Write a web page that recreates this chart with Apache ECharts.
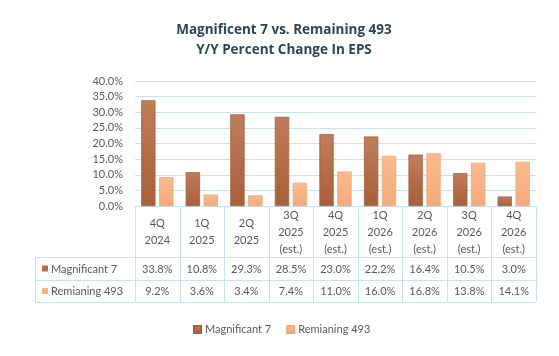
<!DOCTYPE html>
<html>
<head>
<meta charset="utf-8">
<script src="https://cdn.jsdelivr.net/npm/echarts@6/dist/echarts.min.js"></script>
<style>html,body{margin:0;padding:0;background:#fff}#c{width:559px;height:356px}</style>
</head>
<body>
<div id="c"></div>
<script>
var categories = ['4Q\n2024','1Q\n2025','2Q\n2025','3Q\n2025\n(est.)','4Q\n2025\n(est.)','1Q\n2026\n(est.)','2Q\n2026\n(est.)','3Q\n2026\n(est.)','4Q\n2026\n(est.)'];
var mag7 = [33.8, 10.8, 29.3, 28.5, 23.0, 22.2, 16.4, 10.5, 3.0];
var rem493 = [9.2, 3.6, 3.4, 7.4, 11.0, 16.0, 16.8, 13.8, 14.1];
var seriesNames = ['Magnificant 7', 'Remianing 493'];
var yTicks = [0, 5, 10, 15, 20, 25, 30, 35, 40];

var FONT = 'Lato, "Open Sans", sans-serif';
var TXT = '#595959';
var LINE = '#c5e3f0';
var C1 = '#b36a45', C2 = '#f8b283';

var L = 135, R = 536, AX = 206;
var chart = echarts.init(document.getElementById('c'));
var option = {
  animation: false,
  title: {
    text: 'Magnificent 7 vs. Remaining 493\nY/Y Percent Change In EPS',
    left: 279, top: 15, textAlign: 'center',
    textStyle: {fontFamily: '"Open Sans", sans-serif', fontSize: 13.5, fontWeight: 'bold', color: '#2c4657', lineHeight: 20}
  },
  legend: {
    left: 188, top: 319, itemWidth: 7, itemHeight: 7, itemGap: 15, icon: 'rect',
    textStyle: {fontFamily: FONT, fontSize: 11, color: TXT, padding: [0, 0, 0, -1]},
    data: seriesNames
  },
  grid: {left: L, right: 559 - R, top: 81, bottom: 356 - AX},
  xAxis: {
    type: 'category', data: categories,
    axisLine: {show: true, lineStyle: {color: LINE}},
    axisTick: {show: false}, axisLabel: {show: false}
  },
  yAxis: {
    type: 'value', min: yTicks[0], max: yTicks[yTicks.length - 1], interval: 5,
    axisLabel: {fontFamily: FONT, fontSize: 11, color: TXT, margin: 12,
      formatter: function (v) { return v.toFixed(1) + '%'; }},
    splitLine: {lineStyle: {color: LINE}},
    axisLine: {show: false}, axisTick: {show: false}
  },
  series: [
    {name: seriesNames[0], type: 'bar', data: mag7, barWidth: 14, barGap: '28%',
     itemStyle: {color: new echarts.graphic.LinearGradient(0, 0, 0, 1, [{offset: 0, color: '#c07d5a'}, {offset: 1, color: '#a95e39'}]), borderColor: '#a5603e', borderWidth: 0.5}},
    {name: seriesNames[1], type: 'bar', data: rem493, barWidth: 14,
     itemStyle: {color: new echarts.graphic.LinearGradient(0, 0, 0, 1, [{offset: 0, color: '#fbba8e'}, {offset: 1, color: '#f4aa7b'}]), borderColor: '#efa777', borderWidth: 0.5}}
  ]
};
chart.setOption(option);

// Data table under the axis
var rowTops = [257, 280, 302];
var colW = (R - L) / categories.length;
var g = [];
function line(x1, y1, x2, y2) {
  g.push({type: 'line', shape: {x1: x1, y1: y1, x2: x2, y2: y2}, style: {stroke: LINE, lineWidth: 1}, silent: true});
}
for (var i = 0; i <= categories.length; i++) {
  var x = Math.round(L + i * colW) + 0.5;
  line(x, AX, x, rowTops[2]);
}
line(35.5, rowTops[0], 35.5, rowTops[2]);
rowTops.forEach(function (y) { line(35, y + 0.5, R, y + 0.5); });

categories.forEach(function (c, i) {
  var cx = chart.convertToPixel({xAxisIndex: 0}, i);
  g.push({type: 'text', x: cx, y: 232, style: {text: c, fontFamily: FONT, fontSize: 11, fill: TXT, align: 'center', verticalAlign: 'middle', lineHeight: 17}});
  g.push({type: 'text', x: cx, y: (rowTops[0] + rowTops[1]) / 2 + 0.5, style: {text: mag7[i].toFixed(1) + '%', fontFamily: FONT, fontSize: 11, fill: TXT, align: 'center', verticalAlign: 'middle'}});
  g.push({type: 'text', x: cx, y: (rowTops[1] + rowTops[2]) / 2 + 0.5, style: {text: rem493[i].toFixed(1) + '%', fontFamily: FONT, fontSize: 11, fill: TXT, align: 'center', verticalAlign: 'middle'}});
});
[C1, C2].forEach(function (col, r) {
  var cy = (rowTops[r] + rowTops[r + 1]) / 2;
  g.push({type: 'rect', shape: {x: 42, y: cy - 3, width: 6, height: 6}, style: {fill: col}});
  g.push({type: 'text', x: 51, y: cy + 0.5, style: {text: seriesNames[r], fontFamily: FONT, fontSize: 11, fill: TXT, align: 'left', verticalAlign: 'middle'}});
});
chart.setOption({graphic: {elements: g}});
</script>
</body>
</html>
